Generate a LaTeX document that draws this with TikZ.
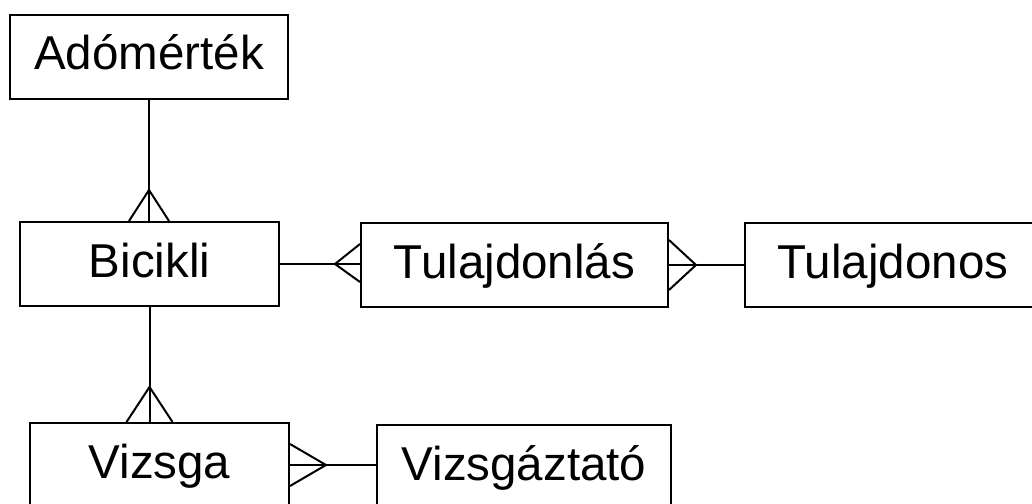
\documentclass[tikz,border=0pt]{standalone}
\usepackage{fontspec}
\setmainfont{Liberation Sans}
\usetikzlibrary{calc}
\begin{document}
\begin{tikzpicture}[x=1pt,y=-1pt,
  ent/.style={draw, line width=2pt, inner sep=0pt, font=\fontsize{47.5}{56}\selectfont, text height=35pt, text depth=9pt, minimum height=84pt},
  conn/.style={line width=2pt},
  foot/.style={line width=2pt, line join=miter}]
\useasboundingbox (0,0) rectangle (1032,503);
\begin{scope}
\clip (0,0) rectangle (1032,503);
\node[ent, minimum width=278pt] (A) at (149,57) {Adómérték};
\node[ent, minimum width=259pt] (B) at (149.5,264) {Bicikli};
\node[ent, minimum width=307pt] (T) at (514.5,265) {Tulajdonlás};
\node[ent, minimum width=296pt] (O) at (893,265) {Tulajdonos};
\node[ent, minimum width=259pt] (V) at (159.5,465) {Vizsga};
\node[ent, minimum width=294pt] (Z) at (524,467) {Vizsgáztató};

% Adómérték - Bicikli
\coordinate (ab) at (A.south |- B.north);
\draw[conn] (A.south) -- (ab);
\draw[foot] ($(ab)+(-20,0)$) -- ($(ab)+(0,-31)$) -- ($(ab)+(20,0)$);

% Bicikli - Vizsga
\coordinate (bv) at (B.south |- V.north);
\draw[conn] (B.south) -- (bv);
\draw[foot] ($(bv)+(-23,0)$) -- ($(bv)+(0,-35)$) -- ($(bv)+(23,0)$);

% Bicikli - Tulajdonlas
\coordinate (bt) at (B.east -| T.west);
\draw[conn] (B.east) -- (bt);
\draw[foot] ($(bt)+(0,-20)$) -- ($(bt)+(-25,0)$) -- ($(bt)+(0,18)$);

% Tulajdonlas - Tulajdonos
\coordinate (to) at (T.east);
\draw[conn] (to) -- (O.west);
\draw[foot] ($(to)+(0,-25)$) -- ($(to)+(27,0)$) -- ($(to)+(0,25)$);

% Vizsga - Vizsgaztato
\coordinate (vz) at (V.east);
\draw[conn] (vz) -- (vz -| Z.west);
\draw[foot] ($(vz)+(0,-21)$) -- ($(vz)+(36,0)$) -- ($(vz)+(0,21)$);
\end{scope}
\end{tikzpicture}
\end{document}
